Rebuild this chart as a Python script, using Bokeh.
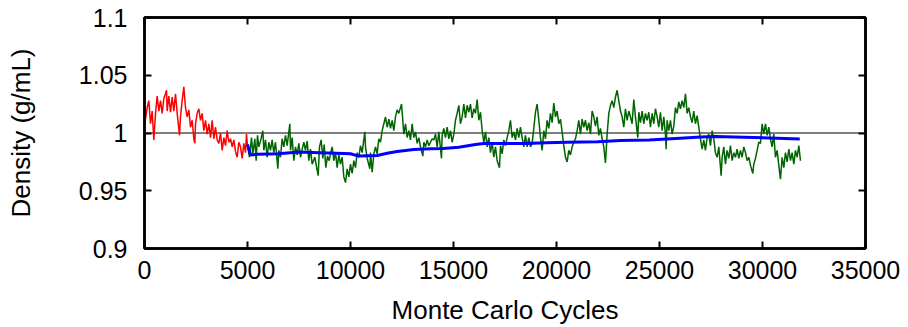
from bokeh.plotting import figure
from bokeh.models import LinearAxis, FixedTicker, Span
from bokeh.embed import file_html
from bokeh.resources import INLINE

# ---------------- data ----------------
x_ticks = [0, 5000, 10000, 15000, 20000, 25000, 30000, 35000]
y_ticks = [0.9, 0.95, 1.0, 1.05, 1.1]
y_tick_labels = ["0.9", "0.95", "1", "1.05", "1.1"]
reference_density = 1.0

# equilibration run (red)
equil_points = [
    (0, 1.005), (49, 1.012), (129, 1.022), (210, 1.028), (291, 1.008), (372, 1.019),
    (453, 0.994), (534, 1.017), (615, 1.032), (696, 1.019), (777, 1.028), (858, 1.017),
    (939, 1.030), (1019, 1.034), (1068, 1.037), (1100, 1.019), (1181, 1.032), (1262, 1.018),
    (1343, 1.031), (1424, 1.019), (1505, 1.034), (1586, 1.017), (1699, 0.998), (1747, 1.014),
    (1828, 1.028), (1909, 1.040), (1990, 1.022), (2071, 1.014), (2152, 1.020), (2233, 1.005),
    (2314, 1.011), (2395, 0.995), (2443, 0.991), (2476, 1.008), (2557, 1.017), (2638, 1.021),
    (2718, 1.011), (2799, 1.017), (2880, 1.002), (2961, 1.011), (3042, 0.999), (3123, 1.008),
    (3204, 0.996), (3285, 1.011), (3366, 0.995), (3447, 1.005), (3528, 0.994), (3609, 0.991),
    (3690, 1.000), (3771, 0.985), (3852, 0.996), (3932, 0.989), (4013, 1.002), (4094, 0.992),
    (4175, 0.995), (4256, 0.988), (4337, 0.994), (4418, 0.984), (4499, 0.979), (4580, 0.992),
    (4660, 0.988), (4741, 0.978), (4822, 0.991), (4903, 0.983), (4951, 0.999), (5000, 0.989),
]

# production run (green)
prod_points = [
    (5000, 0.989), (5097, 0.979), (5194, 0.996), (5259, 0.982), (5356, 0.995), (5420, 0.976),
    (5485, 0.998), (5550, 0.988), (5631, 0.993), (5744, 1.002), (5793, 0.985), (5873, 0.994),
    (5954, 0.979), (6035, 0.992), (6116, 0.985), (6197, 0.994), (6278, 0.983), (6359, 0.992),
    (6472, 0.969), (6521, 0.985), (6601, 0.979), (6682, 0.995), (6763, 0.988), (6844, 0.998),
    (6925, 0.989), (7055, 1.008), (7087, 0.985), (7168, 0.996), (7249, 0.976), (7330, 0.988),
    (7411, 0.981), (7492, 0.991), (7573, 0.979), (7654, 0.986), (7735, 0.992), (7815, 0.985),
    (7896, 0.993), (7977, 0.976), (8058, 0.986), (8139, 0.973), (8268, 0.979), (8430, 0.963),
    (8495, 0.988), (8576, 0.994), (8657, 0.978), (8721, 0.990), (8802, 0.970), (8883, 0.980),
    (8964, 0.976), (9029, 0.982), (9110, 0.988), (9191, 0.976), (9272, 0.983), (9353, 0.970),
    (9433, 0.981), (9514, 0.973), (9595, 0.979), (9676, 0.962), (9757, 0.957), (9838, 0.969),
    (9919, 0.962), (10000, 0.973), (10081, 0.965), (10162, 0.976), (10243, 0.970), (10323, 0.983),
    (10404, 0.979), (10485, 0.989), (10566, 0.983), (10696, 1.001), (10728, 0.988), (10809, 0.978),
    (10938, 0.969), (10971, 0.983), (11052, 0.966), (11133, 0.982), (11213, 0.988), (11294, 0.982),
    (11375, 0.995), (11456, 0.992), (11537, 1.002), (11618, 1.008), (11699, 1.014), (11780, 1.005),
    (11861, 1.012), (11942, 1.004), (12023, 1.011), (12103, 1.002), (12184, 1.014), (12265, 1.020),
    (12346, 1.017), (12475, 1.025), (12508, 1.018), (12589, 0.999), (12670, 1.008), (12751, 0.996),
    (12832, 1.002), (12913, 0.994), (12993, 1.008), (13074, 0.996), (13155, 1.001), (13236, 0.991),
    (13317, 0.996), (13398, 0.988), (13511, 0.980), (13560, 0.992), (13640, 0.988), (13721, 0.994),
    (13802, 0.989), (13883, 0.992), (13964, 0.995), (14045, 0.994), (14125, 0.999), (14206, 0.988),
    (14287, 1.001), (14417, 0.978), (14449, 0.998), (14530, 1.004), (14611, 0.996), (14692, 1.005),
    (14773, 0.995), (14854, 1.002), (14934, 0.992), (15015, 0.999), (15096, 1.011), (15177, 1.017),
    (15258, 1.024), (15339, 1.008), (15420, 1.014), (15501, 1.025), (15582, 1.013), (15663, 1.024),
    (15743, 1.018), (15824, 1.025), (15905, 1.013), (15986, 1.021), (16067, 1.017), (16148, 1.029),
    (16229, 1.011), (16310, 1.018), (16391, 1.002), (16472, 0.992), (16552, 1.001), (16633, 0.988),
    (16714, 0.996), (16795, 0.983), (16876, 0.992), (16957, 0.979), (17038, 0.988), (17119, 0.976),
    (17232, 0.970), (17281, 0.989), (17361, 0.982), (17442, 0.994), (17523, 0.989), (17604, 0.996),
    (17685, 1.002), (17766, 1.011), (17847, 0.996), (17928, 1.001), (18009, 0.994), (18090, 1.004),
    (18170, 0.996), (18251, 1.005), (18332, 0.996), (18413, 0.988), (18494, 0.998), (18575, 0.988),
    (18656, 0.996), (18737, 0.988), (18817, 0.991), (18898, 1.004), (18979, 1.018), (19060, 1.025),
    (19141, 1.011), (19222, 0.996), (19303, 0.985), (19384, 1.002), (19465, 0.995), (19545, 1.011),
    (19626, 1.004), (19707, 1.017), (19788, 1.009), (19869, 1.026), (19950, 1.014), (20031, 1.019),
    (20112, 1.008), (20193, 1.012), (20273, 1.001), (20354, 0.989), (20435, 0.979), (20516, 0.975),
    (20597, 0.985), (20678, 0.981), (20759, 0.988), (20840, 0.992), (20921, 0.995), (21001, 1.002),
    (21082, 1.011), (21163, 0.999), (21244, 1.012), (21325, 1.005), (21406, 1.011), (21487, 1.002),
    (21568, 1.009), (21649, 0.999), (21730, 1.019), (21811, 1.014), (21891, 1.006), (21972, 1.014),
    (22053, 0.998), (22134, 1.004), (22215, 0.995), (22296, 0.988), (22377, 0.974), (22458, 0.999),
    (22539, 1.017), (22620, 1.024), (22700, 1.028), (22781, 1.022), (22862, 1.031), (22943, 1.037),
    (23024, 1.028), (23105, 1.019), (23186, 1.014), (23267, 1.005), (23347, 1.021), (23428, 1.011),
    (23509, 1.019), (23590, 1.014), (23671, 1.008), (23752, 1.029), (23833, 1.014), (23946, 0.996),
    (23995, 1.018), (24076, 1.009), (24156, 1.019), (24237, 1.008), (24318, 1.017), (24399, 1.011),
    (24480, 1.018), (24561, 1.005), (24642, 1.017), (24723, 1.008), (24803, 1.021), (24884, 1.014),
    (24965, 1.005), (25046, 1.018), (25127, 1.002), (25208, 1.014), (25289, 0.999), (25321, 0.986),
    (25370, 1.011), (25451, 1.002), (25532, 1.011), (25613, 0.999), (25694, 1.006), (25774, 1.022),
    (25855, 1.017), (25936, 1.027), (26017, 1.021), (26098, 1.028), (26179, 1.022), (26260, 1.034),
    (26341, 1.017), (26422, 1.022), (26502, 1.014), (26583, 1.009), (26664, 1.019), (26745, 1.008),
    (26826, 1.015), (26907, 1.005), (26988, 0.995), (27069, 0.986), (27150, 0.994), (27230, 0.985),
    (27311, 0.996), (27392, 0.999), (27473, 0.989), (27554, 1.002), (27635, 0.995), (27716, 0.983),
    (27798, 0.979), (27879, 0.988), (27992, 0.963), (28040, 0.979), (28121, 0.988), (28202, 0.973),
    (28283, 0.985), (28364, 0.978), (28445, 0.989), (28526, 0.976), (28607, 0.983), (28688, 0.979),
    (28768, 0.986), (28849, 0.978), (28930, 0.985), (29011, 0.979), (29092, 0.988), (29173, 0.983),
    (29254, 0.976), (29335, 0.979), (29416, 0.972), (29529, 0.965), (29577, 0.973), (29658, 0.978),
    (29739, 0.985), (29820, 0.992), (29901, 0.991), (29982, 1.008), (30063, 0.999), (30144, 1.008),
    (30225, 0.998), (30306, 1.005), (30387, 0.995), (30467, 0.988), (30548, 0.999), (30629, 0.979),
    (30710, 0.985), (30791, 0.972), (30872, 0.960), (30953, 0.979), (31034, 0.970), (31115, 0.983),
    (31196, 0.975), (31277, 0.986), (31358, 0.976), (31439, 0.983), (31520, 0.973), (31601, 0.985),
    (31682, 0.979), (31763, 0.989), (31844, 0.976),
]

# running average of the production run (blue)
avg_points = [
    (5000, 0.990), (5150, 0.981), (5500, 0.9815), (6500, 0.982), (7500, 0.9835), (8500, 0.983),
    (9300, 0.9825), (10000, 0.982), (10400, 0.980), (11300, 0.9805), (11780, 0.9825),
    (12265, 0.984), (13074, 0.9857), (13883, 0.9863), (14500, 0.9865), (15258, 0.9877),
    (16067, 0.990), (16470, 0.991), (17500, 0.991), (18494, 0.991), (19500, 0.9915),
    (20500, 0.992), (22000, 0.9925), (23105, 0.9935), (24500, 0.994), (26000, 0.9955),
    (27000, 0.9965), (27716, 0.997), (29100, 0.9964), (30700, 0.9955), (31810, 0.9947),
]

equil_x = [c for c, d in equil_points]
equil_y = [d for c, d in equil_points]
prod_x = [c for c, d in prod_points]
prod_y = [d for c, d in prod_points]
avg_x = [c for c, d in avg_points]
avg_y = [d for c, d in avg_points]

# ---------------- figure ----------------
FONT = "Liberation Sans"
TICK_FS = "25px"
LABEL_FS = "26px"

p = figure(width=908, height=327, x_range=(0, 35000), y_range=(0.9, 1.1),
           output_backend="svg", toolbar_location=None,
           min_border_left=144, min_border_right=43, min_border_top=17, min_border_bottom=79,
           x_axis_label="Monte Carlo Cycles", y_axis_label="Density (g/mL)")
p.grid.visible = False
p.outline_line_color = "black"
p.outline_line_width = 2.5
p.background_fill_color = "white"
p.border_fill_color = "white"

p.xaxis.ticker = FixedTicker(ticks=x_ticks)
p.yaxis.ticker = FixedTicker(ticks=y_ticks)
p.yaxis.major_label_overrides = {t: s for t, s in zip(y_ticks, y_tick_labels)}

for ax in (p.xaxis[0], p.yaxis[0]):
    ax.axis_line_width = 2.5
    ax.axis_line_color = "black"
    ax.major_tick_in = 7
    ax.major_tick_out = 0
    ax.major_tick_line_width = 2
    ax.minor_tick_line_color = None
    ax.major_label_text_font = FONT
    ax.major_label_text_font_size = TICK_FS
    ax.major_label_text_color = "black"
    ax.axis_label_text_font = FONT
    ax.axis_label_text_font_size = LABEL_FS
    ax.axis_label_text_font_style = "normal"
    ax.axis_label_text_color = "black"

p.xaxis.major_label_standoff = 12
p.xaxis.axis_label_standoff = 13
p.yaxis.major_label_standoff = 17
p.yaxis.axis_label_standoff = 40

# mirrored ticks on top and right (no labels)
for loc, ticks in (("above", x_ticks), ("right", y_ticks)):
    ax = LinearAxis(ticker=FixedTicker(ticks=ticks))
    ax.axis_line_width = 2.5
    ax.major_tick_in = 7
    ax.major_tick_out = 0
    ax.major_tick_line_width = 2
    ax.minor_tick_line_color = None
    ax.major_label_overrides = {t: "" for t in ticks}
    ax.major_label_text_font_size = "1px"
    ax.major_label_standoff = 0
    p.add_layout(ax, loc)

p.add_layout(Span(location=reference_density, dimension="width",
                  line_color="black", line_width=1.2, level="underlay"))

p.line(equil_x, equil_y, line_color="#ff0000", line_width=1.5)
p.line(prod_x, prod_y, line_color="#006400", line_width=1.5)
p.line(avg_x, avg_y, line_color="#0000ff", line_width=3)

open("out.html", "w").write(file_html(p, INLINE))
